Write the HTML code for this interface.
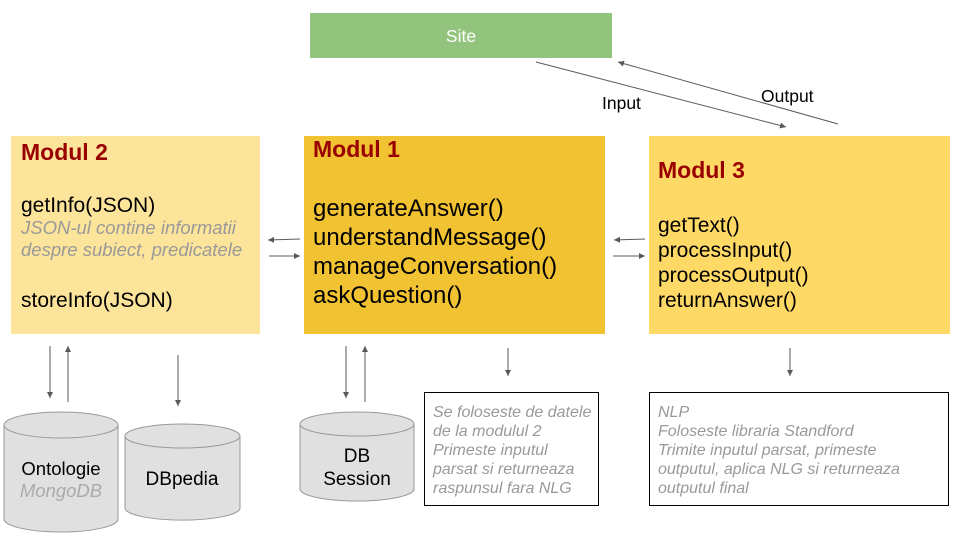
<!DOCTYPE html>
<html><head><meta charset="utf-8"><style>
html,body{margin:0;padding:0;background:#fff;width:960px;height:540px;overflow:hidden}
svg{display:block;font-family:"Liberation Sans",Arial,sans-serif}
</style></head><body>
<svg width="960" height="540" viewBox="0 0 960 540" xmlns="http://www.w3.org/2000/svg">
<defs>
<marker id="a" markerWidth="8" markerHeight="8" refX="6" refY="3" orient="auto" markerUnits="userSpaceOnUse"><path d="M0,0 L6,3 L0,6 z" fill="#595959"/></marker>
</defs>
<rect x="310" y="13" width="302" height="45" fill="#93c47d"/>
<text x="461" y="42" font-size="17.5" fill="#fff" text-anchor="middle">Site</text>
<line x1="536" y1="62" x2="786" y2="127" stroke="#595959" stroke-width="1" marker-end="url(#a)"/>
<line x1="838" y1="124" x2="618" y2="62" stroke="#595959" stroke-width="1" marker-end="url(#a)"/>
<text x="602" y="109" font-size="17.5" fill="#000">Input</text>
<text x="761" y="102" font-size="17.5" fill="#000">Output</text>
<rect x="11" y="136" width="249" height="198" fill="#fde49b"/>
<rect x="304" y="136" width="301" height="198" fill="#f1c232"/>
<rect x="649" y="136" width="301" height="198" fill="#ffd966"/>
<text x="21" y="160" font-size="23" font-weight="bold" fill="#990000">Modul 2</text>
<text x="21" y="212" font-size="21" fill="#000">getInfo(JSON)</text>
<text x="21" y="234" font-size="18.5" font-style="italic" fill="#999">JSON-ul contine informatii</text>
<text x="21" y="256" font-size="18.5" font-style="italic" fill="#999">despre subiect, predicatele</text>
<text x="21" y="307" font-size="21" fill="#000">storeInfo(JSON)</text>
<text x="313" y="157" font-size="23" font-weight="bold" fill="#990000">Modul 1</text>
<text x="313" y="216" font-size="24" fill="#000">generateAnswer()</text>
<text x="313" y="245" font-size="24" fill="#000">understandMessage()</text>
<text x="313" y="274" font-size="24" fill="#000">manageConversation()</text>
<text x="313" y="303" font-size="24" fill="#000">askQuestion()</text>
<text x="658" y="178" font-size="23" font-weight="bold" fill="#990000">Modul 3</text>
<text x="658" y="232" font-size="21" fill="#000">getText()</text>
<text x="658" y="257" font-size="21" fill="#000">processInput()</text>
<text x="658" y="282" font-size="21" fill="#000">processOutput()</text>
<text x="658" y="307" font-size="21" fill="#000">returnAnswer()</text>
<g stroke="#595959" stroke-width="1">
<line x1="300" y1="239" x2="268" y2="240" marker-end="url(#a)"/>
<line x1="269" y1="256" x2="300" y2="256" marker-end="url(#a)"/>
<line x1="645" y1="239" x2="614" y2="240" marker-end="url(#a)"/>
<line x1="613" y1="256" x2="645" y2="256" marker-end="url(#a)"/>
<line x1="50" y1="346" x2="50" y2="398" marker-end="url(#a)"/>
<line x1="68" y1="402" x2="68" y2="346" marker-end="url(#a)"/>
<line x1="178" y1="355" x2="178" y2="406" marker-end="url(#a)"/>
<line x1="346" y1="346" x2="346" y2="398" marker-end="url(#a)"/>
<line x1="365" y1="402" x2="365" y2="346" marker-end="url(#a)"/>
<line x1="508" y1="348" x2="508" y2="376" marker-end="url(#a)"/>
<line x1="790" y1="348" x2="790" y2="376" marker-end="url(#a)"/>
</g>
<g fill="#e0e0e0" stroke="#999" stroke-width="1">
<path d="M4,425 L4,519 A57,13 0 0 0 118,519 L118,425"/>
<ellipse cx="61" cy="425" rx="57" ry="13"/>
<path d="M125,436 L125,508 A57,12 0 0 0 240,508 L240,436"/>
<ellipse cx="182.5" cy="436" rx="57.5" ry="12"/>
<path d="M300,424 L300,489 A57,12 0 0 0 414,489 L414,424"/>
<ellipse cx="357" cy="424" rx="57" ry="12"/>
</g>
<text x="61" y="475" font-size="18.5" fill="#000" text-anchor="middle">Ontologie</text>
<text x="61" y="497" font-size="18.5" font-style="italic" fill="#aaa" text-anchor="middle">MongoDB</text>
<text x="182" y="485" font-size="19" fill="#000" text-anchor="middle">DBpedia</text>
<text x="357" y="462" font-size="19" fill="#000" text-anchor="middle">DB</text>
<text x="357" y="485" font-size="19" fill="#000" text-anchor="middle">Session</text>
<rect x="424.5" y="392.5" width="174" height="113" fill="#fff" stroke="#000"/>
<g font-size="16" font-style="italic" fill="#999">
<text x="433" y="417">Se foloseste de datele</text>
<text x="433" y="436">de la modulul 2</text>
<text x="433" y="455">Primeste inputul</text>
<text x="433" y="474">parsat si returneaza</text>
<text x="433" y="493">raspunsul fara NLG</text>
</g>
<rect x="649.5" y="392.5" width="299" height="113" fill="#fff" stroke="#000"/>
<g font-size="16" font-style="italic" fill="#999">
<text x="658" y="417">NLP</text>
<text x="658" y="436">Foloseste libraria Standford</text>
<text x="658" y="455">Trimite inputul parsat, primeste</text>
<text x="658" y="474">outputul, aplica NLG si returneaza</text>
<text x="658" y="493">outputul final</text>
</g>
</svg>
</body></html>
